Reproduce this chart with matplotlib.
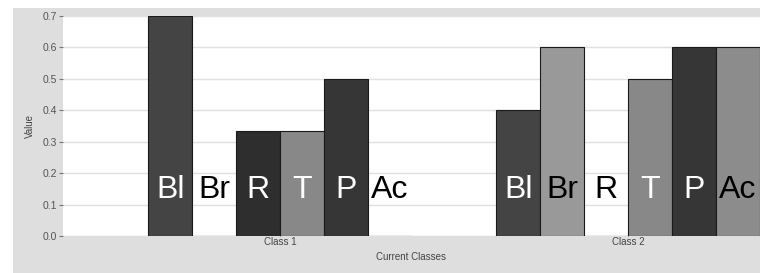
import matplotlib.pyplot as plt
import numpy as np
from matplotlib.patches import Rectangle

plt.rcParams['font.family'] = ['Liberation Sans', 'DejaVu Sans']

classes = ['Class 1', 'Class 2']
series = ['Bl', 'Br', 'R', 'T', 'P', 'Ac']
values = {
    'Bl': [0.7, 0.4],
    'Br': [0.0, 0.6],
    'R': [0.333, 0.0],
    'T': [0.333, 0.5],
    'P': [0.5, 0.6],
    'Ac': [0.0, 0.6],
}
colors = {'Bl': '#444444', 'Br': '#999999', 'R': '#2e2e2e',
          'T': '#888888', 'P': '#363636', 'Ac': '#8c8c8c'}
# label text colour per class (white on dark bars, black elsewhere)
label_colors = {
    'Bl': ['white', 'white'],
    'Br': ['black', 'black'],
    'R': ['white', 'black'],
    'T': ['white', 'white'],
    'P': ['white', 'white'],
    'Ac': ['black', 'black'],
}

W, H = 760, 273
fig = plt.figure(figsize=(W / 100, H / 100), dpi=100)
fig.patch.set_facecolor('white')
fig.patches.append(Rectangle((13 / W, 0), 1, 1 - 8 / H, transform=fig.transFigure,
                             facecolor='#dedede', edgecolor='none', zorder=-10))

ax = fig.add_axes([63 / W, 37 / H, (W - 63) / W, 220 / H])
ax.set_facecolor('white')

x = np.arange(len(classes))
w = 0.1264
for i, s in enumerate(series):
    pos = x + (i - 2.5) * w
    ax.bar(pos, values[s], width=w, color=colors[s], edgecolor='#1a1a1a',
           linewidth=0.8, zorder=3)
    for j, p in enumerate(pos):
        c = label_colors[s][j]
        ax.text(p, 0.12, s, ha='center', va='baseline', fontsize=23, color=c,
                zorder=5)

ax.set_xlim(-0.624, 1.379)
ax.set_ylim(0, 0.7)
ax.set_yticks(np.arange(0, 0.71, 0.1))
ax.set_yticklabels(['%.1f' % v for v in np.arange(0, 0.71, 0.1)])
ax.set_xticks(x)
ax.set_xticklabels(classes)
ax.grid(axis='y', color='#e0e0e0', linewidth=1, zorder=0)
ax.set_axisbelow(True)
for sp in ax.spines.values():
    sp.set_visible(False)
ax.tick_params(axis='y', length=3, color='#777777', labelcolor='#555555',
               labelsize=7.5, pad=1)
ax.tick_params(axis='x', length=3, color='#777777', labelcolor='#444444',
               labelsize=7, pad=1, direction='in')
ax.set_ylabel('Value', fontsize=7, color='#444444', labelpad=6)
ax.set_xlabel('Current Classes', fontsize=7, color='#444444', labelpad=3)

fig.savefig('out.png', dpi=100, facecolor=fig.get_facecolor())
